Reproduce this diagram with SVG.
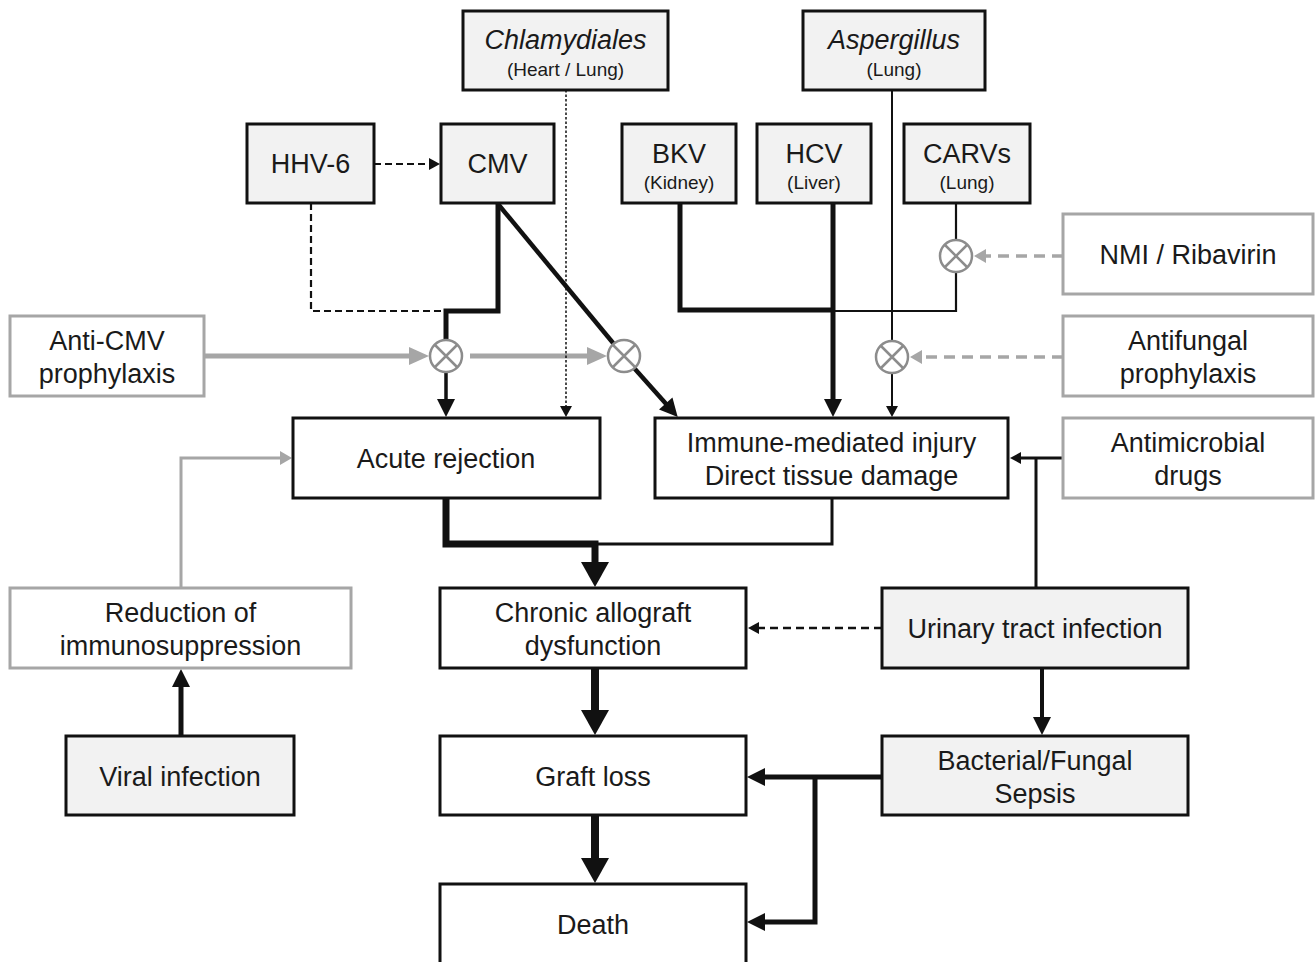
<svg xmlns="http://www.w3.org/2000/svg" width="1315" height="962" viewBox="0 0 1315 962">
  <style>
    .box { fill: #ffffff; stroke: #111111; stroke-width: 3; }
    .shade { fill: #f2f2f2; }
    .soft { stroke: #a6a6a6; }
    text { font-family: "Liberation Sans", Arial, sans-serif; fill: #1a1a1a; text-anchor: middle; }
    .t { font-size: 27px; }
    .s { font-size: 19px; }
    .it { font-style: italic; }
    .ln { fill: none; stroke: #111111; stroke-linejoin: miter; stroke-linecap: butt; }
    .gl { fill: none; stroke: #a6a6a6; stroke-linecap: butt; }
    .gate circle { fill: #ffffff; stroke: #8c8c8c; stroke-width: 2.5; }
    .gate path { stroke: #8c8c8c; stroke-width: 2.5; fill: none; }
  </style>
  <defs>
    <marker id="ahBig" markerUnits="userSpaceOnUse" markerWidth="26" markerHeight="28" refX="1" refY="14" orient="auto" overflow="visible">
      <path d="M0,0 L25,14 L0,28 z" fill="#111111"/>
    </marker>
    <marker id="ahMed" markerUnits="userSpaceOnUse" markerWidth="18" markerHeight="18" refX="1" refY="9" orient="auto" overflow="visible">
      <path d="M0,0 L18,9 L0,18 z" fill="#111111"/>
    </marker>
    <marker id="ahSmall" markerUnits="userSpaceOnUse" markerWidth="12" markerHeight="12" refX="1" refY="6" orient="auto" overflow="visible">
      <path d="M0,0 L11,6 L0,12 z" fill="#111111"/>
    </marker>
    <marker id="ahGray" markerUnits="userSpaceOnUse" markerWidth="20" markerHeight="18" refX="1" refY="9" orient="auto" overflow="visible">
      <path d="M0,0 L20,9 L0,18 z" fill="#a6a6a6"/>
    </marker>
    <marker id="ahGraySmall" markerUnits="userSpaceOnUse" markerWidth="12" markerHeight="14" refX="1" refY="7" orient="auto" overflow="visible">
      <path d="M0,0 L12,7 L0,14 z" fill="#a6a6a6"/>
    </marker>
  </defs>

  <rect width="1315" height="962" fill="#ffffff"/>

  <!-- connectors -->
  <g id="connectors">
    <!-- HHV-6 to CMV -->
    <path class="ln" d="M374,164 H430" stroke-width="2.2" stroke-dasharray="7,4" marker-end="url(#ahSmall)"/>
    <path class="ln" d="M311,203 V311 H446" stroke-width="2.2" stroke-dasharray="7,4"/>
    <!-- CMV to acute rejection -->
    <path class="ln" d="M498,203 V311 H446 V340" stroke-width="5"/>
    <path class="ln" d="M446,372 V400" stroke-width="3.5" marker-end="url(#ahMed)"/>
    <!-- CMV to tissue injury -->
    <path class="ln" d="M498,204 L613.7,343.8" stroke-width="4.5"/>
    <path class="ln" d="M634.3,368.2 L666.4,404.2" stroke-width="4.5" marker-end="url(#ahMed)"/>
    <!-- anti-CMV prophylaxis -->
    <path class="gl" d="M204,356 H410" stroke-width="5" marker-end="url(#ahGray)"/>
    <path class="gl" d="M470,356 H588" stroke-width="5" marker-end="url(#ahGray)"/>
    <!-- Chlamydiales -->
    <path class="ln" d="M566,90 V407" stroke-width="1.5" stroke-dasharray="2.5,2" marker-end="url(#ahSmall)"/>
    <!-- Aspergillus -->
    <path class="ln" d="M892,90 V341" stroke-width="2"/>
    <path class="ln" d="M892,373 V407" stroke-width="2" marker-end="url(#ahSmall)"/>
    <!-- BKV / HCV -->
    <path class="ln" d="M680,203 V310 H833" stroke-width="5"/>
    <path class="ln" d="M833,203 V400" stroke-width="5" marker-end="url(#ahMed)"/>
    <!-- CARVs -->
    <path class="ln" d="M956,203 V240" stroke-width="2.2"/>
    <path class="ln" d="M956,272 V311 H833" stroke-width="2.2"/>
    <!-- NMI / antifungal -->
    <path class="gl" d="M1063,256 H985" stroke-width="3.5" stroke-dasharray="11,7" marker-end="url(#ahGraySmall)"/>
    <path class="gl" d="M1063,357 H921" stroke-width="3.5" stroke-dasharray="11,7" marker-end="url(#ahGraySmall)"/>
    <!-- antimicrobial drugs and UTI -->
    <path class="ln" d="M1063,458 H1020" stroke-width="3" marker-end="url(#ahSmall)"/>
    <path class="ln" d="M1036,588 V458" stroke-width="3"/>
    <!-- to chronic allograft dysfunction -->
    <path class="ln" d="M446,498 V544 H595 V563" stroke-width="7" marker-end="url(#ahBig)"/>
    <path class="ln" d="M832,498 V544 H595" stroke-width="3"/>
    <path class="ln" d="M882,628 H758" stroke-width="2.5" stroke-dasharray="8,5" marker-end="url(#ahSmall)"/>
    <!-- reduction of immunosuppression -->
    <path class="gl" d="M181,588 V458 H281" stroke-width="3" marker-end="url(#ahGraySmall)"/>
    <path class="ln" d="M181,736 V686" stroke-width="5" marker-end="url(#ahMed)"/>
    <!-- outcome chain -->
    <path class="ln" d="M595,668 V711" stroke-width="8" marker-end="url(#ahBig)"/>
    <path class="ln" d="M595,815 V859" stroke-width="8" marker-end="url(#ahBig)"/>
    <!-- UTI to sepsis and sepsis outcomes -->
    <path class="ln" d="M1042,668 V718" stroke-width="4" marker-end="url(#ahMed)"/>
    <path class="ln" d="M882,777 H764" stroke-width="5" marker-end="url(#ahMed)"/>
    <path class="ln" d="M815,777 V922 H764" stroke-width="5" marker-end="url(#ahMed)"/>
  </g>

  <!-- inhibition points -->
  <g id="gate-cmv1" class="gate"><circle cx="446" cy="356" r="16"/><path d="M435,345 L457,367 M457,345 L435,367"/></g>
  <g id="gate-cmv2" class="gate"><circle cx="624" cy="356" r="16"/><path d="M613,345 L635,367 M635,345 L613,367"/></g>
  <g id="gate-fungal" class="gate"><circle cx="892" cy="357" r="16"/><path d="M881,346 L903,368 M903,346 L881,368"/></g>
  <g id="gate-carv" class="gate"><circle cx="956" cy="256" r="16"/><path d="M945,245 L967,267 M967,245 L945,267"/></g>

  <!-- nodes -->
  <g id="chlamydiales">
    <rect class="box shade" x="463" y="11" width="205" height="79"/>
    <text class="t it" x="565.5" y="49">Chlamydiales</text>
    <text class="s" x="565.5" y="76">(Heart / Lung)</text>
  </g>
  <g id="aspergillus">
    <rect class="box shade" x="803" y="11" width="182" height="79"/>
    <text class="t it" x="894" y="49">Aspergillus</text>
    <text class="s" x="894" y="76">(Lung)</text>
  </g>
  <g id="hhv6">
    <rect class="box shade" x="247" y="124" width="127" height="79"/>
    <text class="t" x="310.5" y="173">HHV-6</text>
  </g>
  <g id="cmv">
    <rect class="box shade" x="441" y="124" width="113" height="79"/>
    <text class="t" x="497.5" y="173">CMV</text>
  </g>
  <g id="bkv">
    <rect class="box shade" x="622" y="124" width="114" height="79"/>
    <text class="t" x="679" y="163">BKV</text>
    <text class="s" x="679" y="189">(Kidney)</text>
  </g>
  <g id="hcv">
    <rect class="box shade" x="757" y="124" width="114" height="79"/>
    <text class="t" x="814" y="163">HCV</text>
    <text class="s" x="814" y="189">(Liver)</text>
  </g>
  <g id="carvs">
    <rect class="box shade" x="904" y="124" width="126" height="79"/>
    <text class="t" x="967" y="163">CARVs</text>
    <text class="s" x="967" y="189">(Lung)</text>
  </g>
  <g id="nmi-ribavirin">
    <rect class="box soft" x="1063" y="214" width="250" height="80"/>
    <text class="t" x="1188" y="264">NMI / Ribavirin</text>
  </g>
  <g id="anti-cmv">
    <rect class="box soft" x="10" y="316" width="194" height="80"/>
    <text class="t" x="107" y="350">Anti-CMV</text>
    <text class="t" x="107" y="383">prophylaxis</text>
  </g>
  <g id="antifungal">
    <rect class="box soft" x="1063" y="316" width="250" height="80"/>
    <text class="t" x="1188" y="350">Antifungal</text>
    <text class="t" x="1188" y="383">prophylaxis</text>
  </g>
  <g id="acute-rejection">
    <rect class="box" x="293" y="418" width="307" height="80"/>
    <text class="t" x="446" y="468">Acute rejection</text>
  </g>
  <g id="tissue-injury">
    <rect class="box" x="655" y="418" width="353" height="80"/>
    <text class="t" x="831.5" y="452">Immune-mediated injury</text>
    <text class="t" x="831.5" y="485">Direct tissue damage</text>
  </g>
  <g id="antimicrobial">
    <rect class="box soft" x="1063" y="418" width="250" height="80"/>
    <text class="t" x="1188" y="452">Antimicrobial</text>
    <text class="t" x="1188" y="485">drugs</text>
  </g>
  <g id="reduction">
    <rect class="box soft" x="10" y="588" width="341" height="80"/>
    <text class="t" x="180.5" y="622">Reduction of</text>
    <text class="t" x="180.5" y="655">immunosuppression</text>
  </g>
  <g id="chronic-dysfunction">
    <rect class="box" x="440" y="588" width="306" height="80"/>
    <text class="t" x="593" y="622">Chronic allograft</text>
    <text class="t" x="593" y="655">dysfunction</text>
  </g>
  <g id="uti">
    <rect class="box shade" x="882" y="588" width="306" height="80"/>
    <text class="t" x="1035" y="638">Urinary tract infection</text>
  </g>
  <g id="viral-infection">
    <rect class="box shade" x="66" y="736" width="228" height="79"/>
    <text class="t" x="180" y="786">Viral infection</text>
  </g>
  <g id="graft-loss">
    <rect class="box" x="440" y="736" width="306" height="79"/>
    <text class="t" x="593" y="786">Graft loss</text>
  </g>
  <g id="sepsis">
    <rect class="box shade" x="882" y="736" width="306" height="79"/>
    <text class="t" x="1035" y="770">Bacterial/Fungal</text>
    <text class="t" x="1035" y="803">Sepsis</text>
  </g>
  <g id="death">
    <rect class="box" x="440" y="884" width="306" height="80"/>
    <text class="t" x="593" y="934">Death</text>
  </g>
</svg>
